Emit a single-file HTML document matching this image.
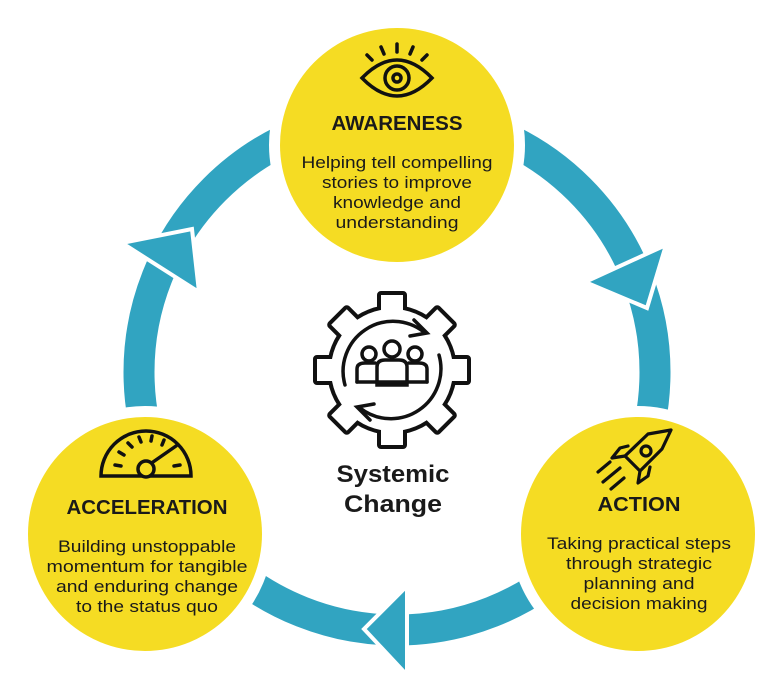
<!DOCTYPE html>
<html><head><meta charset="utf-8"><style>
html,body{margin:0;padding:0;background:#fff;}
svg{display:block}
text{font-family:"Liberation Sans",sans-serif;fill:#1a1a1a}
</style></head><body>
<svg width="768" height="698" viewBox="0 0 768 698" xmlns="http://www.w3.org/2000/svg">
<rect width="768" height="698" fill="#fff"/>
<circle cx="397" cy="372" r="258" fill="none" stroke="#31a4c1" stroke-width="31"/>
<polygon points="122,243 192,229 199,292" fill="#31a4c1" stroke="#fff" stroke-width="4"/>
<polygon points="585,282 666,245 647,308" fill="#31a4c1" stroke="#fff" stroke-width="4"/>
<polygon points="364,629 407,586 407,675" fill="#31a4c1" stroke="#fff" stroke-width="4"/>
<circle cx="397" cy="145" r="128" fill="#fff"/>
<circle cx="145" cy="534" r="128" fill="#fff"/>
<circle cx="638" cy="534" r="128" fill="#fff"/>
<circle cx="397" cy="145" r="117" fill="#f5dc23"/>
<circle cx="145" cy="534" r="117" fill="#f5dc23"/>
<circle cx="638" cy="534" r="117" fill="#f5dc23"/>
<g fill="none" stroke="#111" stroke-width="3.5" stroke-linecap="round">
<path d="M362,78 Q397,42 432,78 Q397,114 362,78 Z"/>
<circle cx="397" cy="78" r="12"/>
<circle cx="397" cy="78" r="4"/>
<line x1="397" y1="44" x2="397" y2="52"/>
<line x1="381" y1="47" x2="384" y2="54"/>
<line x1="413" y1="47" x2="410" y2="54"/>
<line x1="367" y1="55" x2="372" y2="60"/>
<line x1="427" y1="55" x2="422" y2="60"/>
</g>
<g fill="none" stroke="#111" stroke-width="3.5" stroke-linecap="round">
<path d="M101,476 A45,45 0 0 1 191,476 Z"/>
<line x1="115" y1="465" x2="121" y2="466"/>
<line x1="119" y1="452" x2="124" y2="455"/>
<line x1="128" y1="443" x2="132" y2="447"/>
<line x1="139" y1="437" x2="141" y2="442"/>
<line x1="152" y1="436" x2="151" y2="441"/>
<line x1="164" y1="440" x2="162" y2="445"/>
<line x1="174" y1="466" x2="180" y2="465"/>
<line x1="153" y1="462" x2="176" y2="446"/>
<circle cx="146" cy="469" r="8" fill="#f5dc23"/>
</g>
<g fill="none" stroke="#111" stroke-width="3.2" stroke-linecap="round" stroke-linejoin="round">
<path d="M671,430 L648,434 L625,456 L640,471 L662,449 Z"/>
<circle cx="646" cy="451" r="5"/>
<path d="M628,446 L620,448 L612,458 L625,456"/>
<path d="M650,467 L648,476 L638,483 L640,471"/>
<line x1="598" y1="472" x2="610" y2="462"/>
<line x1="603" y1="482" x2="620" y2="468"/>
<line x1="611" y1="489" x2="624" y2="478"/>
</g>
<g transform="translate(392,370)">
<g fill="#111" stroke="#111" stroke-width="8" stroke-linejoin="round">
<circle r="61"/>
<rect x="-11" y="-75" width="22" height="20" transform="rotate(0)"/>
<rect x="-11" y="-75" width="22" height="20" transform="rotate(45)"/>
<rect x="-11" y="-75" width="22" height="20" transform="rotate(90)"/>
<rect x="-11" y="-75" width="22" height="20" transform="rotate(135)"/>
<rect x="-11" y="-75" width="22" height="20" transform="rotate(180)"/>
<rect x="-11" y="-75" width="22" height="20" transform="rotate(225)"/>
<rect x="-11" y="-75" width="22" height="20" transform="rotate(270)"/>
<rect x="-11" y="-75" width="22" height="20" transform="rotate(315)"/>
</g>
<g fill="#fff">
<circle r="61"/>
<rect x="-11" y="-75" width="22" height="20" transform="rotate(0)"/>
<rect x="-11" y="-75" width="22" height="20" transform="rotate(45)"/>
<rect x="-11" y="-75" width="22" height="20" transform="rotate(90)"/>
<rect x="-11" y="-75" width="22" height="20" transform="rotate(135)"/>
<rect x="-11" y="-75" width="22" height="20" transform="rotate(180)"/>
<rect x="-11" y="-75" width="22" height="20" transform="rotate(225)"/>
<rect x="-11" y="-75" width="22" height="20" transform="rotate(270)"/>
<rect x="-11" y="-75" width="22" height="20" transform="rotate(315)"/>
</g>
<g fill="none" stroke="#111" stroke-width="3.5" stroke-linecap="round">
<path d="M-47,15 A50,50 0 0 1 32,-38"/>
<path d="M47,-15 A50,50 0 0 1 -32,38"/>
<polyline points="22,-50 35,-37 18,-34"/>
<polyline points="-22,50 -35,37 -18,34"/>
<circle cx="-23" cy="-16" r="7"/>
<circle cx="0" cy="-21" r="8"/>
<circle cx="23" cy="-16" r="7"/>
<path d="M-35,12 L-35,-1 Q-35,-7 -27,-7 L-17,-7"/>
<path d="M35,12 L35,-1 Q35,-7 27,-7 L17,-7"/>
<path d="M-15,15 L-15,-3 Q-15,-10 -7,-10 L7,-10 Q15,-10 15,-3 L15,15 Z"/>
<line x1="-35" y1="12" x2="35" y2="12"/>
</g>
</g>
<g text-anchor="middle">
<text x="397" y="130" font-size="20" font-weight="bold" textLength="131" lengthAdjust="spacingAndGlyphs">AWARENESS</text>
<text x="397" y="168" font-size="16.5" textLength="191" lengthAdjust="spacingAndGlyphs">Helping tell compelling</text>
<text x="397" y="188" font-size="16.5" textLength="150" lengthAdjust="spacingAndGlyphs">stories to improve</text>
<text x="397" y="208" font-size="16.5" textLength="128" lengthAdjust="spacingAndGlyphs">knowledge and</text>
<text x="397" y="228" font-size="16.5" textLength="123" lengthAdjust="spacingAndGlyphs">understanding</text>
<text x="147" y="514" font-size="20" font-weight="bold" textLength="161" lengthAdjust="spacingAndGlyphs">ACCELERATION</text>
<text x="147" y="552" font-size="16.5" textLength="178" lengthAdjust="spacingAndGlyphs">Building unstoppable</text>
<text x="147" y="572" font-size="16.5" textLength="201" lengthAdjust="spacingAndGlyphs">momentum for tangible</text>
<text x="147" y="592" font-size="16.5" textLength="182" lengthAdjust="spacingAndGlyphs">and enduring change</text>
<text x="147" y="612" font-size="16.5" textLength="142" lengthAdjust="spacingAndGlyphs">to the status quo</text>
<text x="639" y="511" font-size="20" font-weight="bold" textLength="83" lengthAdjust="spacingAndGlyphs">ACTION</text>
<text x="639" y="549" font-size="16.5" textLength="184" lengthAdjust="spacingAndGlyphs">Taking practical steps</text>
<text x="639" y="569" font-size="16.5" textLength="146" lengthAdjust="spacingAndGlyphs">through strategic</text>
<text x="639" y="589" font-size="16.5" textLength="111" lengthAdjust="spacingAndGlyphs">planning and</text>
<text x="639" y="609" font-size="16.5" textLength="137" lengthAdjust="spacingAndGlyphs">decision making</text>
<text x="393" y="482" font-size="24" font-weight="bold" textLength="113" lengthAdjust="spacingAndGlyphs">Systemic</text>
<text x="393" y="512" font-size="24" font-weight="bold" textLength="98" lengthAdjust="spacingAndGlyphs">Change</text>
</g>
</svg>
</body></html>
